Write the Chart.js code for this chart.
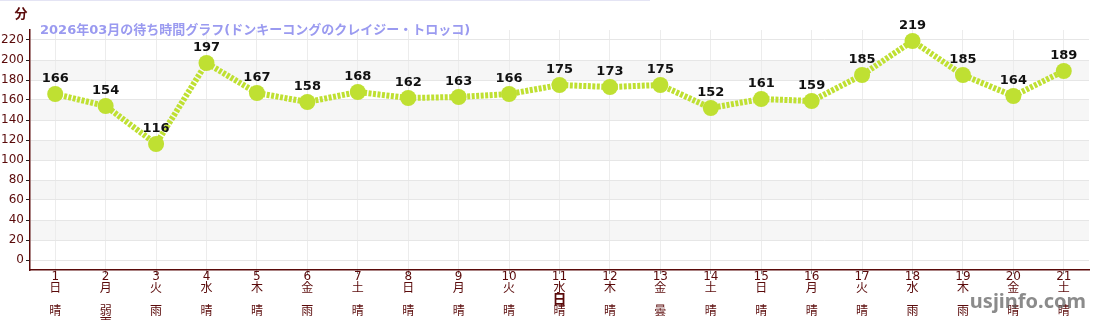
<!DOCTYPE html>
<html>
<head>
<meta charset="utf-8">
<script src="https://cdn.jsdelivr.net/npm/chart.js@4"></script>
<style>
  html, body { margin: 0; padding: 0; background: #fff; }
  #wrap { width: 1100px; height: 320px; }
</style>
</head>
<body>
<div id="wrap"><canvas id="waitChart" width="1100" height="320"></canvas></div>
<script>
// ===== data =====
const days = ['1','2','3','4','5','6','7','8','9','10','11','12','13','14','15','16','17','18','19','20','21'];
const weekdays = ['日','月','火','水','木','金','土','日','月','火','水','木','金','土','日','月','火','水','木','金','土'];
const weather = ['晴','弱雨','雨','晴','晴','雨','晴','晴','晴','晴','晴','晴','曇','晴','晴','晴','晴','雨','雨','晴','晴'];
const waitMinutes = [166,154,116,197,167,158,168,162,163,166,175,173,175,152,161,159,185,219,185,164,189];
const chartTitle = '2026年03月の待ち時間グラフ(ドンキーコングのクレイジー・トロッコ)';

const FONT = "'DejaVu Sans', 'Noto Sans CJK JP', sans-serif";
const AXIS_RED = '#5a0a0a';
const LINE_GREEN = '#bfe032';

// grey bands behind the plot + extra texts
const decoPlugin = {
  id: 'deco',
  beforeDraw(chart) {
    const { ctx, chartArea, scales } = chart;
    const y = scales.y;
    ctx.save();
    ctx.fillStyle = '#f6f6f6';
    for (let v = 20; v < 220; v += 40) {
      const top = y.getPixelForValue(v + 20);
      const bot = y.getPixelForValue(v);
      ctx.fillRect(chartArea.left, top, chartArea.right - chartArea.left, bot - top);
    }
    // thin top border line
    ctx.strokeStyle = '#e4e4f4';
    ctx.lineWidth = 1;
    ctx.beginPath();
    ctx.moveTo(0, 0.5);
    ctx.lineTo(650, 0.5);
    ctx.stroke();
    ctx.restore();
  },
  afterDraw(chart) {
    const { ctx, chartArea } = chart;
    ctx.save();
    // title inside plot
    ctx.font = 'bold 13px ' + FONT;
    ctx.fillStyle = '#9a9af0';
    ctx.textAlign = 'left';
    ctx.textBaseline = 'middle';
    ctx.fillText(chartTitle, chartArea.left + 10, chartArea.top + 1);
    // y axis unit
    ctx.font = 'bold 13px ' + FONT;
    ctx.fillStyle = AXIS_RED;
    ctx.textAlign = 'center';
    ctx.fillText('分', 21, 15);
    // x axis title
    ctx.font = 'bold 14px ' + FONT;
    ctx.fillText('日', (chartArea.left + chartArea.right) / 2, 300);
    // watermark
    ctx.font = "bold 20px 'Noto Sans', 'Open Sans', sans-serif";
    ctx.fillStyle = 'rgba(100,100,100,0.75)';
    ctx.textAlign = 'right';
    ctx.fillText('usjinfo.com', 1086, 302);
    ctx.restore();
  },
  afterDatasetsDraw(chart) {
    const { ctx } = chart;
    const meta = chart.getDatasetMeta(0);
    const data = chart.data.datasets[0].data;
    ctx.save();
    ctx.font = 'bold 13px ' + FONT;
    ctx.fillStyle = '#111';
    ctx.textAlign = 'center';
    ctx.textBaseline = 'bottom';
    meta.data.forEach((pt, i) => {
      ctx.fillText(String(data[i]), pt.x, pt.y - 9);
    });
    ctx.restore();
  }
};

const ctx = document.getElementById('waitChart');
new Chart(ctx, {
  type: 'line',
  data: {
    labels: days,
    datasets: [{
      data: waitMinutes,
      borderColor: LINE_GREEN,
      borderWidth: 6,
      borderDash: [3, 1.5],
      backgroundColor: LINE_GREEN,
      pointBackgroundColor: LINE_GREEN,
      pointBorderWidth: 0,
      pointRadius: 8,
      tension: 0,
      fill: false
    }]
  },
  options: {
    responsive: false,
    animation: false,
    layout: { padding: { top: 30, right: 11, left: 0, bottom: 0 } },
    plugins: { legend: { display: false }, tooltip: { enabled: false }, title: { display: false } },
    scales: {
      x: {
        offset: true,
        afterFit: s => { s.height = 50; },
        border: { color: AXIS_RED, width: 1.5 },
        grid: { color: '#ececec', tickColor: '#888', tickLength: 4, drawOnChartArea: true },
        ticks: {
          color: AXIS_RED,
          maxRotation: 0,
          autoSkip: false,
          padding: -3,
          font: { family: FONT, size: 12, lineHeight: 0.97 },
          callback: (v, i) => [days[i], weekdays[i], ''].concat(weather[i].split(''))
        }
      },
      y: {
        min: -10,
        max: 230,
        afterFit: s => { s.width = 30; },
        border: { color: AXIS_RED, width: 1.5 },
        grid: {
          color: c => (c.tick && c.tick.value % 20 === 0 && c.tick.value <= 220) ? '#e6e6e6' : 'rgba(0,0,0,0)',
          tickColor: c => (c.tick && c.tick.value % 20 === 0) ? '#222' : '#e00',
          tickLength: 4
        },
        afterBuildTicks: s => {
          const t = [];
          for (let v = 0; v <= 220; v += 10) t.push({ value: v });
          s.ticks = t;
        },
        ticks: {
          color: AXIS_RED,
          padding: 2,
          font: { family: FONT, size: 12 },
          callback: v => (v % 20 === 0 ? String(v) : '')
        }
      }
    }
  },
  plugins: [decoPlugin]
});
</script>
</body>
</html>
